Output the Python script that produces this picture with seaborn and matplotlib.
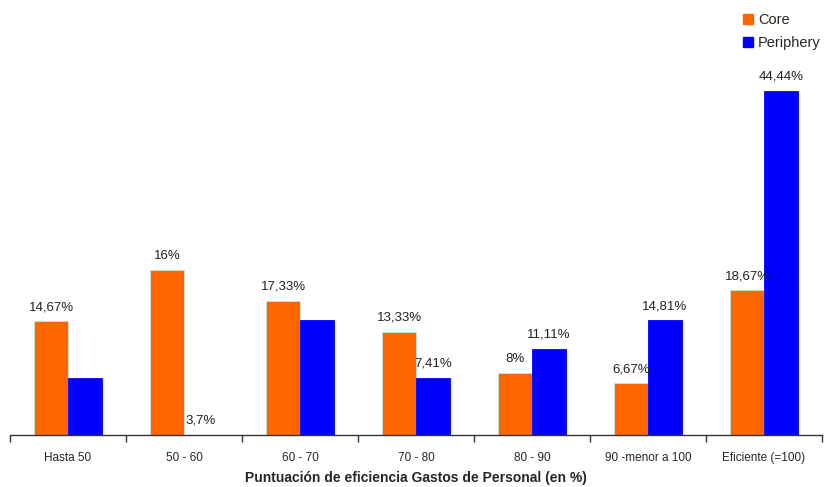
import pandas as pd
import matplotlib
matplotlib.use('Agg')
import matplotlib.pyplot as plt
from matplotlib.lines import Line2D
import seaborn as sns

# Datos
categorias = ['Hasta 50', '50 - 60', '60 - 70', '70 - 80', '80 - 90',
              '90 -menor a 100', 'Eficiente (=100)']
core = [14.67, 21.33, 17.33, 13.33, 8.0, 6.67, 18.67]
periphery = [7.41, 0.0, 14.81, 7.41, 11.11, 14.81, 44.44]
core_labels = ['14,67%', '16%', '17,33%', '13,33%', '8%', '6,67%', '18,67%']
periphery_labels = ['', '3,7%', '', '7,41%', '11,11%', '14,81%', '44,44%']
series = ['Core', 'Periphery']
colores = ['#FF6600', '#0000FF']

df = pd.DataFrame({
    'categoria': categorias * 2,
    'valor': core + periphery,
    'serie': ['Core'] * len(core) + ['Periphery'] * len(periphery),
})

sns.set_style('white')
plt.rcParams['font.family'] = ['Liberation Sans', 'DejaVu Sans']

fig = plt.figure(figsize=(8.24, 4.87), dpi=100)
ax = fig.add_axes([10 / 824, 52 / 487, 812 / 824, (435 - 48) / 487])

sns.barplot(data=df, x='categoria', y='valor', hue='serie', order=categorias,
            hue_order=series, palette=colores, width=0.58, saturation=1,
            legend=False, ax=ax)

# bordes y etiquetas
for i, (cont, labs) in enumerate(zip(ax.containers, [core_labels, periphery_labels])):
    for p in cont:
        p.set_linewidth(0.6)
        p.set_edgecolor('#BFE8E0' if i == 0 else '#0000FF')
    ax.bar_label(cont, labels=labs, padding=6, fontsize=9.5, color='#222222')

ax.set_ylim(0, 50)
ax.set_xlim(-0.5, len(categorias) - 0.5)
for s in ['top', 'right', 'left']:
    ax.spines[s].set_visible(False)
ax.spines['bottom'].set_color('#333333')
ax.spines['bottom'].set_linewidth(1)
ax.set_yticks([])
ax.set_ylabel('')

ax.set_xticks(range(len(categorias)))
ax.set_xticklabels(categorias, fontsize=8.5)
ax.tick_params(axis='x', which='major', length=0, pad=12)
ax.set_xticks([i - 0.5 for i in range(len(categorias) + 1)], minor=True)
ax.tick_params(axis='x', which='minor', length=5, width=1, color='#333333',
               direction='out', bottom=True)
ax.set_xlabel('Puntuación de eficiencia Gastos de Personal (en %)',
              fontsize=10, fontweight='bold', labelpad=5)

handles = [Line2D([0], [0], marker='s', linestyle='', markersize=7,
                  markerfacecolor=c, markeredgecolor=c) for c in colores]
fig.legend(handles, series, loc='upper right', bbox_to_anchor=(1.012, 1.0),
           frameon=False, fontsize=10.5, handlelength=0.8, handletextpad=0.3,
           labelspacing=0.6)

fig.savefig('out.png', dpi=100)
